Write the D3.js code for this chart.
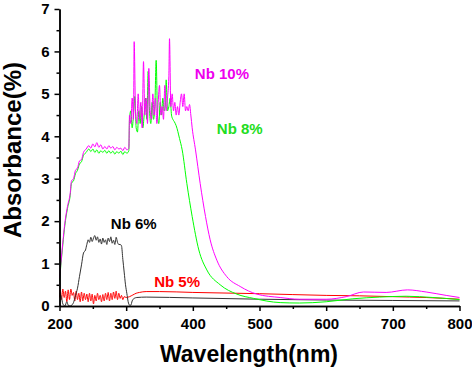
<!DOCTYPE html>
<html>
<head>
<meta charset="utf-8">
<script src="https://cdn.jsdelivr.net/npm/d3@7"></script>
<style>
  body { margin: 0; background: #fff; }
  svg { display: block; font-family: Arial, "Liberation Sans", sans-serif; font-weight: bold; }
  .axis path, .axis line { stroke: #000; stroke-width: 1.5; }
  .axis text { font-size: 15px; font-weight: bold; fill: #000; }
</style>
</head>
<body>
<script>
const WIDTH = 472;
const HEIGHT = 368;

// [wavelength nm, absorbance %]
var nb10 = [[200,0.65],[202,1.0],[205,1.5],[208,1.95],[212,2.35],[216,2.65],[218,2.95],[221,3.0],[224,3.2],[227,3.25],[230,3.42],[233,3.45],[236,3.62],[240,3.7],[244,3.78],
  [247,3.72],[250,3.82],[253,3.75],[256,3.85],[259,3.74],[262,3.8],[265,3.7],[268,3.76],[271,3.7],[274,3.78],[277,3.72],[280,3.76],[283,3.68],[286,3.74],[289,3.7],[292,3.72],[295,3.66],[298,3.74],[301,3.68],[304,3.72],
  [305,4.5],[307,4.3],[309,4.9],[311,4.4],[312,6.23],[314,4.6],[316,4.3],[318,5.0],[320,4.4],[322,4.8],[324,4.2],[326,5.76],[328,4.5],[330,4.9],[332,4.3],[334,5.6],[336,4.6],[338,4.4],[340,5.0],[342,4.5],[344,4.9],[346,4.3],[348,4.8],[350,5.2],[352,4.5],[354,4.7],[356,4.4],[358,5.2],[360,4.6],[362,4.9],[364,5.4],[365,6.3],[367,4.7],[369,5.0],[371,4.6],[373,4.8],[375,4.5],[377,4.7],[379,4.5],[381,4.8],[383,5.0],[385,4.7],[387,5.0],[389,4.6],[391,4.7],[393,4.6],[395,4.75],[397,4.5],
  [399,4.2],[404,3.68],[411,2.89],[419,2.11],[426,1.56],[436,1.08],[451,0.69],[471,0.46],[496,0.28],[531,0.2],[560,0.16],[600,0.16],[630,0.22],[656,0.33],[690,0.32],[722,0.38],[750,0.33],[780,0.25],[800,0.2]];

var nb8 = [[200,0.6],[202,0.95],[205,1.45],[208,1.9],[212,2.3],[216,2.6],[218,2.9],[221,2.95],[224,3.12],[227,3.2],[230,3.35],[233,3.4],[236,3.55],[240,3.62],[244,3.7],
  [247,3.64],[250,3.7],[253,3.62],[256,3.68],[259,3.6],[262,3.66],[265,3.62],[268,3.67],[271,3.6],[274,3.66],[277,3.6],[280,3.65],[283,3.58],[286,3.64],[289,3.6],[292,3.65],[295,3.57],[298,3.64],[301,3.6],[304,3.66],
  [305,4.4],[307,4.6],[309,4.2],[311,4.5],[313,4.94],[315,4.2],[317,4.1],[319,4.6],[321,4.3],[323,4.7],[325,4.2],[327,4.5],[329,4.9],[331,4.4],[333,5.53],[335,4.6],[337,4.3],[339,4.8],[341,4.4],[343,4.7],[345,5.79],[347,4.5],[349,4.3],[351,4.8],[353,4.5],[355,4.9],[357,4.6],[359,4.8],[360,5.33],[362,4.6],[364,4.7],[366,4.9],[368,4.5],[370,4.4],[372,4.35],
  [375,4.25],[380,3.95],[384,3.68],[391,2.89],[399,2.11],[409,1.32],[421,0.85],[441,0.5],[466,0.28],[491,0.18],[531,0.08],[560,0.07],[600,0.1],[640,0.17],[680,0.21],[720,0.23],[760,0.2],[800,0.15]];

var nb6 = [[200,0.3],[203,0.2],[205,0.05],[208,0.0],[211,0.1],[213,0.02],[216,0.0],[219,0.03],[221,0.08],[224,0.25],[227,0.42],[230,0.7],[233,0.97],[236,1.25],[239,1.32],[241,1.45],[243,1.56],
  [245,1.5],[247,1.62],[249,1.52],[251,1.6],[253,1.66],[255,1.55],[257,1.63],[259,1.5],[261,1.58],[263,1.46],[265,1.6],[267,1.5],[269,1.56],[271,1.45],[273,1.6],[275,1.52],[277,1.63],[279,1.48],[281,1.55],[283,1.45],[285,1.62],[287,1.5],[289,1.45],[291,1.45],[293,1.42],
  [295,1.1],[297,0.8],[299,0.5],[301,0.3],[303,0.1],[305,0.02],[307,0.02],[309,0.12],[312,0.18],[316,0.2],[330,0.21],[400,0.19],[500,0.16],[600,0.14],[700,0.13],[800,0.12]];

var nb5 = [[200,0.2],[201,0.38],[203,0.15],[205,0.4],[207,0.2],[209,0.35],[211,0.1],[213,0.38],[215,0.15],[217,0.4],[219,0.25],[221,0.32],[223,0.12],[225,0.35],[227,0.15],[229,0.3],[231,0.1],[233,0.33],[235,0.12],[237,0.3],[239,0.15],[241,0.28],[243,0.1],[245,0.3],[247,0.12],[249,0.28],[251,0.05],[253,0.25],[255,0.12],[257,0.3],[259,0.15],[261,0.25],[263,0.1],[265,0.27],[267,0.12],[269,0.3],[271,0.15],[273,0.32],[275,0.12],[277,0.3],[279,0.15],[281,0.33],[283,0.18],[285,0.35],[287,0.15],[289,0.3],[291,0.18],[293,0.25],[295,0.15],[297,0.22],
  [300,0.2],[305,0.22],[310,0.26],[315,0.3],[320,0.32],[330,0.34],[350,0.34],[400,0.32],[500,0.29],[600,0.25],[650,0.24],[700,0.22],[750,0.2],[800,0.16]];

var seriesNames = ['Nb 10%', 'Nb 8%', 'Nb 6%', 'Nb 5%'];
var seriesData = [nb10, nb8, nb6, nb5];
var lineColors = ['#ff00ff', '#00ff00', '#333333', '#ff0000'];
var textColors = ['#ee00ee', '#22dd22', '#000000', '#ff0000'];
var labelPos = [[403, 5.35], [436, 4.05], [277, 1.82], [342, 0.44]]; // [wavelength, absorbance] anchor for labels

var xTicks = [200, 300, 400, 500, 600, 700, 800];
var xMinor = [250, 350, 450, 550, 650, 750];
var yTicks = [0, 1, 2, 3, 4, 5, 6, 7];
var yMinor = [0.5, 1.5, 2.5, 3.5, 4.5, 5.5, 6.5];

var svg = d3.select('body').append('svg')
    .attr('width', WIDTH)
    .attr('height', HEIGHT);

var xScale = d3.scaleLinear().domain([200, 800]).range([59.5, 459.5]);
var yScale = d3.scaleLinear().domain([0, 7]).range([306, 9]);

var line = d3.line()
    .x(function (d) { return xScale(d[0]); })
    .y(function (d) { return yScale(d[1]); })
    .curve(d3.curveMonotoneX);

var lines = svg.append('g');
[3, 2, 1, 0].forEach(function (i) {
    lines.append('path')
        .attr('d', line(seriesData[i]))
        .attr('fill', 'none')
        .attr('stroke', lineColors[i])
        .attr('stroke-width', 1);
});

// minor ticks first, then major axes on top
svg.append('g').attr('class', 'axis')
    .attr('transform', 'translate(0,306)')
    .call(d3.axisBottom(xScale).tickValues(xMinor).tickSize(3).tickSizeOuter(0).tickFormat(''));
svg.append('g').attr('class', 'axis')
    .attr('transform', 'translate(59.5,0)')
    .call(d3.axisLeft(yScale).tickValues(yMinor).tickSize(3).tickSizeOuter(0).tickFormat(''));

svg.append('g').attr('class', 'axis')
    .attr('transform', 'translate(0,306)')
    .call(d3.axisBottom(xScale).tickValues(xTicks).tickSize(5).tickPadding(7).tickSizeOuter(0).tickFormat(d3.format('d')));
svg.append('g').attr('class', 'axis')
    .attr('transform', 'translate(59.5,0)')
    .call(d3.axisLeft(yScale).tickValues(yTicks).tickSize(5).tickPadding(5).tickSizeOuter(0).tickFormat(d3.format('d')));

svg.append('text')
    .attr('transform', 'translate(21,150) rotate(-90)')
    .attr('text-anchor', 'middle')
    .attr('font-size', 24)
    .text('Absorbance(%)');

svg.append('text')
    .attr('x', 249)
    .attr('y', 362)
    .attr('text-anchor', 'middle')
    .attr('font-size', 23)
    .text('Wavelength(nm)');

seriesNames.forEach(function (name, i) {
    svg.append('text')
        .attr('x', xScale(labelPos[i][0]))
        .attr('y', yScale(labelPos[i][1]))
        .attr('font-size', 15)
        .attr('fill', textColors[i])
        .text(name);
});
</script>
</body>
</html>
